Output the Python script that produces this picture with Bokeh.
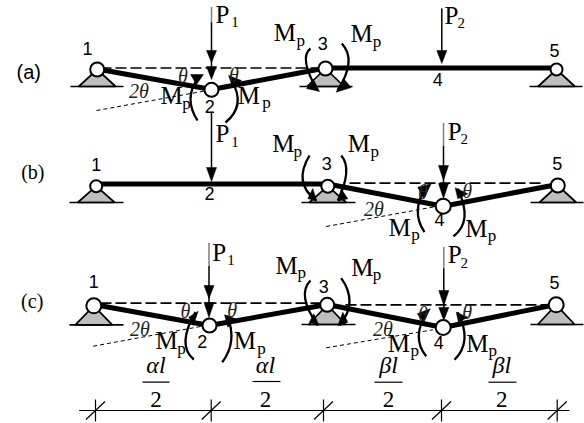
from bokeh.plotting import figure
from bokeh.models import Range1d
from bokeh.core.properties import value
from bokeh.embed import file_html
from bokeh.resources import INLINE

SERIF = "Liberation Serif"
SANS = "Liberation Sans"

# ---- beams (kinked chord through the hinges), one polyline per panel
beam_a_x = [96.5, 211, 325, 555]
beam_a_y = [68.5, 89, 67.5, 67.5]
beam_b_x = [96, 327.3, 442.7, 557]
beam_b_y = [183.5, 183.5, 205.7, 184]
beam_c_x = [93.3, 209, 326.7, 442.7, 555.7]
beam_c_y = [304, 325, 304, 327, 304]

# ---- hinges
hinge_x = [96.7, 211, 325, 556, 95.7, 327.3, 442.7, 557.3, 93.3, 209, 326.7, 442.7, 555.7]
hinge_y = [69, 89.3, 68, 69, 185.7, 185.7, 205.7, 185, 305.3, 325, 304.3, 327, 304.3]
hinge_d = [14, 14, 14, 12, 12, 13, 15, 14, 15, 14, 14, 15, 15]

# ---- supports: apex, base half width, base level
support_x = [96.7, 325, 556, 95.7, 327.3, 557.3, 93.3, 326.7, 555.7]
support_y = [69, 68, 69, 185.7, 185.7, 185, 305.3, 304.3, 304.3]
support_b = [86, 86, 86, 202, 202, 202, 324.3, 324, 324]
ground_x0 = [70, 299, 529, 69, 301, 530, 69, 301, 530]
ground_x1 = [123, 352, 582, 123, 355, 583, 123, 355, 583]

# ---- long dashed datum lines
datum_x0 = [100, 349, 100, 345]
datum_x1 = [315, 544, 322, 545]
datum_y = [67.5, 182.7, 302.7, 304.3]

# ---- thin dashed chord extension
chord_x0 = [96, 325.7, 92.7, 325.7]
chord_y0 = [110, 226, 345.7, 347.3]
chord_x1 = [203.3, 435.7, 200, 432.3]
chord_y1 = [90.7, 206, 326, 329.3]

# ---- load arrows
load_x = [211, 441.3, 211, 443, 208.5, 443.3]
load_top = [7, 8, 112, 123, 243, 247]
load_dot_end = [22, 8, 112, 145, 265, 268]
load_end = [66, 50, 167, 183, 302, 307]
head_x = [211, 211, 441.3, 211, 443, 443, 208.5, 208.5, 443.3, 443.3]
head_y0 = [50, 66, 50, 167, 165, 183, 285, 302, 290, 307]
head_y1 = [62, 79, 63, 181, 180, 198, 298, 317, 305, 320]

# ---- plastic moment arcs: start, bulge point, end
arc_sx = [197, 225, 310, 341.3, 309, 340.7, 424, 453, 193.3, 221.7, 310, 340.7, 425.7, 454]
arc_sy = [120, 122, 48, 43, 155, 155, 231.7, 235.7, 359, 361.7, 280, 277.7, 355.7, 359.3]
arc_mx = [190, 237, 305.7, 348, 302.3, 345.7, 417.3, 464, 185, 230.7, 304.7, 349, 418.3, 464]
arc_my = [98, 103, 63, 63, 180, 173, 210, 216.7, 340, 340, 298.3, 301.7, 335, 338.3]
arc_ex = [198, 231, 317, 337, 315.7, 337.3, 425.7, 457.3, 195, 226.7, 317.3, 339, 427.3, 457.3]
arc_ey = [77, 80, 90, 90, 200, 200, 186.7, 188.3, 311.7, 315, 325, 325, 310, 311.7]

# ---- moment arrow heads (three corners each)
mhead_xs = [[190, 203, 196], [228, 241, 232], [319, 306, 313], [335.7, 350.7, 343],
            [316.3, 307.3, 312.3], [337.3, 347.3, 340.7], [430.7, 417.3, 423.3], [454.7, 467.3, 457.3],
            [197.7, 188.3, 192.7], [224, 235, 227.3], [318.3, 309, 313.3], [337.3, 347.3, 342.3],
            [429.7, 416.7, 423.3], [455.7, 467.3, 458]]
mhead_ys = [[74, 74, 84], [75, 80, 86], [91, 88, 79], [91.7, 87, 78],
            [200.7, 198, 188], [200.7, 198.3, 188.3], [183.3, 186.7, 198.3], [187.3, 193.3, 198.3],
            [310.7, 316.7, 325], [314.3, 318.3, 326.7], [324.3, 321.7, 313.3], [325, 321.7, 311.7],
            [308.3, 313.3, 321.7], [311.7, 316.7, 321.7]]

# ---- dimension line
dim_x0, dim_x1, dim_y = 78.7, 569, 410
dim_ticks = [95, 210.7, 323, 441, 556.7]

# ---- fraction bars and labels
frac_x0 = [142, 252, 374, 488]
frac_x1 = [169, 280, 402, 516]
frac_y = [381.7, 381, 381.7, 381.7]
frac_cx = [155.5, 265, 388, 501.3]
frac_top = ["αl", "αl", "βl", "βl"]
frac_top_y = [372, 372, 372, 372]
frac_bot_y = [406.7, 406.7, 406.7, 406.7]

# ---- hinge numbers
num_text = ["1", "2", "3", "4", "5", "1", "2", "3", "4", "5", "1", "2", "3", "4", "5"]
num_x = [87, 209.3, 322.3, 437.3, 554, 95.7, 209, 326.3, 439, 556.7, 93.3, 201.7, 323.3, 438.3, 554]
num_y = [48, 106, 43.3, 79, 50, 164, 193.3, 163.3, 219.3, 163.3, 281, 341, 285.7, 341.7, 281.7]

# ---- load labels
load_lab = ["P", "P", "P", "P", "P", "P"]
load_sub = ["1", "2", "1", "2", "1", "2"]
load_lab_x = [215, 444, 215, 447.3, 211.7, 447.3]
load_lab_y = [22.7, 23.3, 141.7, 139, 260, 262]
load_sub_x = [230.7, 457, 230.7, 460, 226.7, 460]
load_sub_y = [26, 27, 146, 143.5, 264, 267]

# ---- moment labels
m_x = [160, 237.3, 273.3, 350, 271.7, 347.3, 388, 464.7, 155, 233.3, 275, 350.7, 387.3, 465.7]
m_y = [103.3, 103, 40.7, 41.7, 151.7, 151.7, 235, 236, 348.3, 348.3, 273, 275, 351, 351]
msub_x = [181.7, 261.7, 296, 372.3, 293, 370, 410.7, 487.3, 176.7, 256.7, 297, 372.3, 410, 488]

# ---- rotation labels
theta_text = ["θ", "θ", "2θ", "2θ", "θ", "θ", "2θ", "θ", "θ", "2θ", "θ", "θ"]
theta_x = [182.3, 233.3, 138.3, 373.3, 422.3, 466.7, 139.3, 185, 231.7, 382.3, 422.3, 466.7]
theta_y = [75, 74, 90.7, 208.3, 191.7, 190, 328.3, 310, 309.3, 328.3, 313.3, 311.7]

# ---- panel labels
panel_text = ["(a)", "(b)", "(c)"]
panel_x = [28.3, 32.3, 31.7]
panel_y = [71.7, 171.7, 300.7]
panel_font = [SANS, SERIF, SERIF]

p = figure(width=584, height=423, x_range=Range1d(0, 584), y_range=Range1d(423, 0),
           output_backend="svg", toolbar_location=None, min_border=0, outline_line_color=None)
p.axis.visible = False
p.grid.visible = False

K = "#000000"
# datum + chords
p.segment(datum_x0, datum_y, datum_x1, datum_y, line_color=K, line_width=1.7, line_dash="11 4")
p.segment(chord_x0, chord_y0, chord_x1, chord_y1, line_color=K, line_width=1, line_dash="4 3")

# supports
p.patches([[x, x - 18.5, x + 18.5] for x in support_x],
          [[y, b, b] for y, b in zip(support_y, support_b)],
          fill_color="#BEBEBE", line_color=K, line_width=1.7)
p.segment(ground_x0, support_b, ground_x1, support_b, line_color=K, line_width=1.7)

# beams
for bx, by in ((beam_a_x, beam_a_y), (beam_b_x, beam_b_y), (beam_c_x, beam_c_y)):
    p.line(bx, by, line_color=K, line_width=5)

# load arrows
p.segment(load_x, load_top, load_x, load_dot_end, line_color=K, line_width=1.5, line_dash="1 1")
p.segment(load_x, load_dot_end, load_x, load_end, line_color=K, line_width=1.5)
p.patches([[x - 5, x + 5, x] for x in head_x],
          [[a, a, b] for a, b in zip(head_y0, head_y1)], fill_color=K, line_color=K, line_width=0.5)

# moment arcs
ctrl_x = [2 * m - (s + e) / 2 for s, m, e in zip(arc_sx, arc_mx, arc_ex)]
ctrl_y = [2 * m - (s + e) / 2 for s, m, e in zip(arc_sy, arc_my, arc_ey)]
p.quadratic(arc_sx, arc_sy, arc_ex, arc_ey, ctrl_x, ctrl_y, line_color=K, line_width=2.3)
p.patches(mhead_xs, mhead_ys, fill_color=K, line_color=K, line_width=0.5)

# hinges
p.scatter(hinge_x, hinge_y, size=hinge_d, marker="circle", fill_color="#FFFFFF", line_color=K, line_width=2)

# dimension line
p.segment([dim_x0], [dim_y], [dim_x1], [dim_y], line_color=K, line_width=1.2)
p.segment(dim_ticks, [399] * 5, dim_ticks, [421] * 5, line_color=K, line_width=1.2)
p.segment([t - 9.5 for t in dim_ticks], [dim_y + 9] * 5, [t + 9.5 for t in dim_ticks], [dim_y - 9] * 5,
          line_color=K, line_width=1.2)
p.segment(frac_x0, frac_y, frac_x1, frac_y, line_color=K, line_width=1.2)

# text: y is the baseline, converted to a middle anchor
def txt(x, y, t, font, size, align="left", style="normal", color="#000000"):
    p.text(x, [v - 0.33 * size for v in y], text=t, text_font=value(font), text_font_size=value(f"{size}px"),
           text_align=align, text_baseline="middle", text_font_style=style, text_color=color)

def mid(x, y, t, font, size, style="normal", color="#000000"):
    p.text(x, y, text=t, text_font=value(font), text_font_size=value(f"{size}px"),
           text_align="center", text_baseline="middle", text_font_style=style, text_color=color)

txt(frac_cx, frac_top_y, frac_top, SERIF, 24, "center", style="italic")
txt(frac_cx, frac_bot_y, ["2"] * 4, SERIF, 23, "center")
mid(num_x, num_y, num_text, SANS, 18)
txt(load_lab_x, load_lab_y, load_lab, SERIF, 25)
txt(load_sub_x, load_sub_y, load_sub, SERIF, 15)
txt(m_x, m_y, ["M"] * len(m_x), SERIF, 25)
txt(msub_x, [y + 5 for y in m_y], ["p"] * len(m_x), SERIF, 17)
mid(theta_x, theta_y, theta_text, SERIF, 20, style="italic", color="#222222")
for x, y, t, f in zip(panel_x, panel_y, panel_text, panel_font):
    mid([x], [y], [t], f, 20)

open("out.html", "w").write(file_html(p, INLINE))
